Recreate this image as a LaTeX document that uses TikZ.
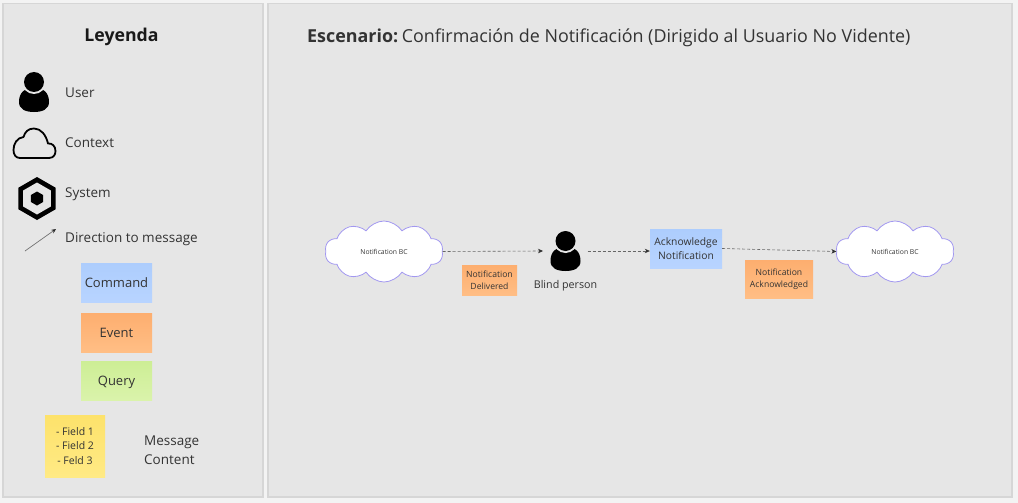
\documentclass[tikz,border=0pt]{standalone}
\usepackage{fontspec}
\setmainfont{Open Sans}
\usetikzlibrary{shapes.geometric,shapes.symbols,arrows.meta,shadows}
\definecolor{pagebg}{HTML}{F3F3F3}
\definecolor{panelbg}{HTML}{E6E6E6}
\definecolor{panelline}{HTML}{D6D6D6}
\definecolor{inkc}{HTML}{333333}
\definecolor{cloudline}{HTML}{A298F0}
\tikzset{
  x=1pt,y=-1pt,
  panel/.style={draw=panelline,line width=1.2pt,fill=panelbg},
  lbl/.style={text=inkc,font=\fontsize{13.5}{16}\selectfont,anchor=west,inner sep=0pt,text height=9.8pt,text depth=0pt},
  sticky/.style={inner sep=0pt,align=center,text=inkc,drop shadow={shadow xshift=.3pt,shadow yshift=-1.3pt,opacity=.18,fill=black}},
  commandn/.style={sticky,top color=cmdT,bottom color=cmdB},
  eventn/.style={sticky,top color=evtT,bottom color=evtB},
  queryn/.style={sticky,top color=qryT,bottom color=qryB},
  fieldn/.style={sticky,top color=ylwT,bottom color=ylwB},
  legendnote/.style={minimum width=71pt,minimum height=39pt,font=\fontsize{13}{16}\selectfont,text height=9.5pt,text depth=0pt},
  bigcloud/.style={cloud,cloud puffs=10,cloud puff arc=115,aspect=1.95,draw=cloudline,fill=white,line width=.8pt,inner sep=0pt,minimum width=118pt,minimum height=61pt,text=inkc,font=\fontsize{6.8}{8}\selectfont},
  msgarrow/.style={dash pattern=on 3pt off 2pt,draw=black!60,line width=.6pt,-{Stealth[length=5pt,width=4.5pt,black!80]}},
  pics/personicon/.style={code={
    \fill[black] (-15,10) .. controls (-15,0) and (-9,-4) .. (0,-4) .. controls (9,-4) and (15,0) .. (15,10) .. controls (15,17) and (9,20) .. (0,20) .. controls (-9,20) and (-15,17) .. (-15,10) -- cycle;
    \fill[panelbg] (0,-10) circle[radius=12];
    \fill[black] (0,-10) circle[radius=10];
  }},
}
\definecolor{cmdT}{HTML}{ADCDFD}\definecolor{cmdB}{HTML}{B8D4FF}
\definecolor{evtT}{HTML}{FDAE6F}\definecolor{evtB}{HTML}{FFBE85}
\definecolor{qryT}{HTML}{CDEE95}\definecolor{qryB}{HTML}{DAF3AB}
\definecolor{ylwT}{HTML}{FDE26B}\definecolor{ylwB}{HTML}{FFEA85}
\begin{document}
\begin{tikzpicture}
\useasboundingbox (0,0) rectangle (1018,503);
\fill[pagebg] (0,0) rectangle (1018,503);
\draw[panel] (3,3.5) rectangle (263,497);
\draw[panel] (268,3.5) rectangle (1012,497);

\node[inner sep=0pt,text=black!90,font=\fontsize{17.7}{20}\selectfont\bfseries] (legendtitle) at (121.5,37) {Leyenda};
\node[inner sep=0pt,anchor=west,text=inkc,font=\fontsize{17.9}{20}\selectfont] (scenario) at (307,37.5) {\textbf{Escenario:}\hspace{3.5pt}Confirmación de Notificación (Dirigido al Usuario No Vidente)};

% legend icons
\pic at (34,92) {personicon};
\node[lbl] (luser) at (65,92.5) {User};
\draw[line width=1.8pt,line join=round,black] (20,158) -- (49,158) .. controls (54,158) and (55.5,154) .. (55.5,151) .. controls (55.5,146) and (52,143) .. (48,143.5) .. controls (46,135) and (41,128.5) .. (34,128.5) .. controls (28,128.5) and (25,132) .. (23.5,137) .. controls (17,137.5) and (13.5,144) .. (13.5,150) .. controls (13.5,155) and (16,158) .. (20,158) -- cycle;
\node[lbl] (lcontext) at (65,143) {Context};
\node[regular polygon,regular polygon sides=6,shape border rotate=30,fill=black,minimum size=43pt,inner sep=0pt] (syshex) at (37,198.5) {};
\node[regular polygon,regular polygon sides=6,shape border rotate=30,fill=panelbg,minimum size=32pt,inner sep=0pt] (sysring) at (37,198.5) {};
\node[regular polygon,regular polygon sides=6,shape border rotate=30,fill=black,minimum size=14pt,inner sep=0pt] (syscore) at (37,198.5) {};
\node[lbl] (lsystem) at (65,193) {System};
\coordinate (dirA) at (25,251);
\coordinate (dirB) at (56,229);
\draw[draw=black!55,line width=.7pt,-{Stealth[length=4.5pt,width=4pt,black!85]}] (dirA) -- (dirB);
\node[lbl] (ldirection) at (65,238) {Direction to message};

% legend stickies
\node[commandn,legendnote] (lcommand) at (116.5,282.5) {Command};
\node[eventn,legendnote] (levent) at (116.5,332.5) {Event};
\node[queryn,legendnote] (lquery) at (116.5,380.5) {Query};
\node[fieldn,minimum width=60pt,minimum height=62pt,font=\fontsize{10.5}{14.7}\selectfont] (lfields) at (75,446) {- Field 1\\- Field 2\\- Feld 3};
\node[text=inkc,anchor=west,inner sep=0pt,align=left,font=\fontsize{13.5}{19}\selectfont] (lmessage) at (144,450) {Message\\Content};

% scenario
\node[bigcloud] (cloudA) at (384,251.5) {Notification BC};
\node[inner sep=0pt,minimum width=34pt,minimum height=42pt] (person) at (565.5,251) {};
\pic at (565.5,251) {personicon};
\node[inner sep=0pt,text=inkc,font=\fontsize{10.7}{13}\selectfont] (personlabel) at (565.5,286) {Blind person};
\node[commandn,minimum width=72pt,minimum height=39pt,font=\fontsize{10.3}{14}\selectfont] (ack) at (686,248.5) {Acknowledge\\Notification};
\node[eventn,minimum width=55pt,minimum height=30pt,font=\fontsize{8.6}{12}\selectfont] (delivered) at (489.5,280) {Notification\\Delivered};
\node[eventn,minimum width=68pt,minimum height=38pt,font=\fontsize{8.6}{12}\selectfont] (acked) at (779,279) {Notification\\Acknowledged};
\node[bigcloud] (cloudB) at (895,251.5) {Notification BC};

\draw[msgarrow] (cloudA.east) -- (person.west -| 543,251);
\draw[msgarrow] (person.east) ++(5,0) -- (ack.west |- 0,251);
\draw[msgarrow] (ack.east) -- (cloudB.west);
\end{tikzpicture}
\end{document}
